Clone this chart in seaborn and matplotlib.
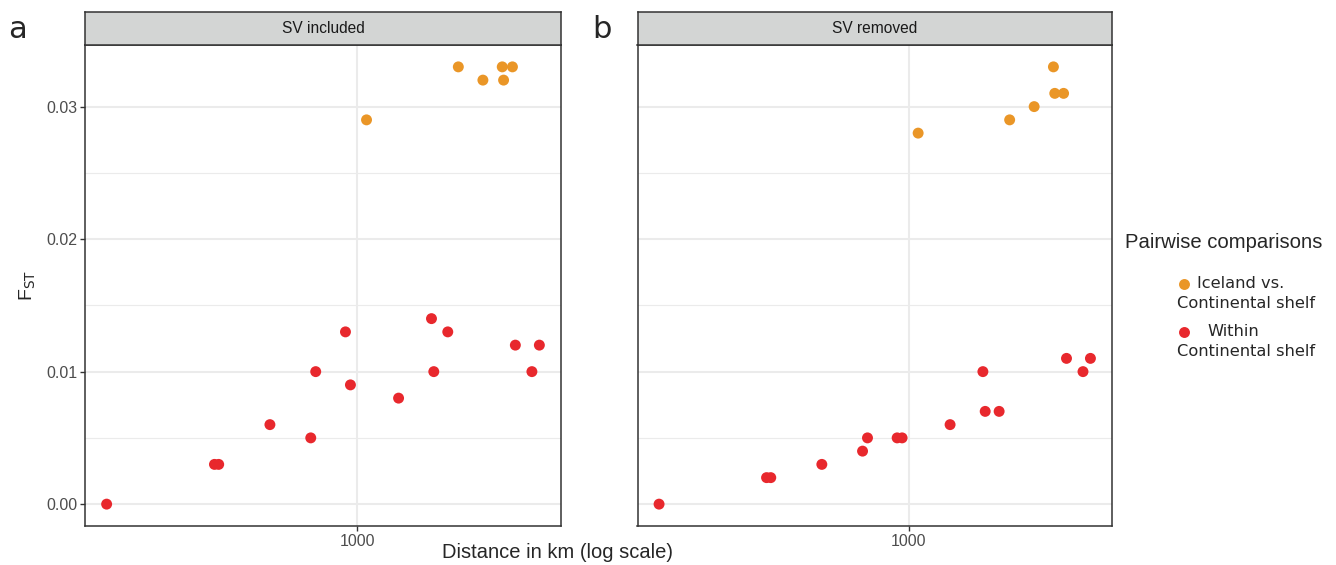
import matplotlib
matplotlib.use("Agg")
import matplotlib.pyplot as plt
import seaborn as sns
import pandas as pd
import numpy as np
from matplotlib.ticker import FixedLocator, NullLocator, FixedFormatter

# ---------------- data ----------------
iceland_dist = [1062, 1912, 2238, 2533, 2555, 2704]
within_dist = [201, 401, 412, 572, 743, 767, 928, 958, 1304, 1610, 1634, 1787, 2755, 3063, 3213]

iceland_fst_sv_included = [0.029, 0.033, 0.032, 0.033, 0.032, 0.033]
within_fst_sv_included = [0.000, 0.003, 0.003, 0.006, 0.005, 0.010, 0.013, 0.009, 0.008,
                          0.014, 0.010, 0.013, 0.012, 0.010, 0.012]
iceland_fst_sv_removed = [0.028, 0.029, 0.030, 0.033, 0.031, 0.031]
within_fst_sv_removed = [0.000, 0.002, 0.002, 0.003, 0.004, 0.005, 0.005, 0.005, 0.006,
                         0.010, 0.007, 0.007, 0.011, 0.010, 0.011]

panels = ["SV included", "SV removed"]
panel_letters = ["a", "b"]
groups = ["Iceland vs.\nContinental shelf", "Within\nContinental shelf"]
y_ticks = [0.00, 0.01, 0.02, 0.03]
y_tick_labels = ["0.00", "0.01", "0.02", "0.03"]
x_ticks = [1000]
x_tick_labels = ["1000"]

palette = {groups[0]: "#EA9627", groups[1]: "#E8282D"}

rows = []
for panel, ice, wit in [(panels[0], iceland_fst_sv_included, within_fst_sv_included),
                        (panels[1], iceland_fst_sv_removed, within_fst_sv_removed)]:
    for d, f in zip(iceland_dist, ice):
        rows.append((panel, groups[0], d, f))
    for d, f in zip(within_dist, wit):
        rows.append((panel, groups[1], d, f))
df = pd.DataFrame(rows, columns=["panel", "group", "distance", "fst"])

# ---------------- figure ----------------
sns.set_theme(style="white")
plt.rcParams["font.family"] = ["Liberation Sans", "DejaVu Sans"]

W, H = 1336, 565
fig = plt.figure(figsize=(W / 100, H / 100), dpi=100)

def fbox(x0, y0, x1, y1):
    return [x0 / W, 1 - y1 / H, (x1 - x0) / W, (y1 - y0) / H]

panel_px = [(85, 561), (637.5, 1112)]
top, bottom, strip_top = 45, 526, 12

# log-x range with ggplot-like 5% expansion
lx = np.log10([min(within_dist + iceland_dist), max(within_dist + iceland_dist)])
span = lx[1] - lx[0]
xlim = (10 ** (lx[0] - 0.05 * span), 10 ** (lx[1] + 0.05 * span))
ylim = (-0.05 * 0.033, 0.033 * 1.05)

for i, panel in enumerate(panels):
    x0, x1 = panel_px[i]
    ax = fig.add_axes(fbox(x0, top, x1, bottom))
    sub = df[df.panel == panel]
    sns.scatterplot(data=sub, x="distance", y="fst", hue="group", palette=palette,
                    hue_order=groups, s=62, linewidth=0, ax=ax, legend=False, zorder=3)
    ax.set_xscale("log")
    ax.set_xlim(*xlim)
    ax.set_ylim(*ylim)
    ax.xaxis.set_major_locator(FixedLocator(x_ticks))
    ax.xaxis.set_major_formatter(FixedFormatter(x_tick_labels))
    ax.xaxis.set_minor_locator(NullLocator())
    ax.yaxis.set_major_locator(FixedLocator(y_ticks))
    ax.yaxis.set_minor_locator(FixedLocator([0.005, 0.015, 0.025]))
    ax.grid(True, which="major", color="#EBEBEB", linewidth=1.5, zorder=0)
    ax.grid(True, which="minor", axis="y", color="#EBEBEB", linewidth=0.8, zorder=0)
    ax.set_axisbelow(True)
    for s in ax.spines.values():
        s.set_color("#333333")
        s.set_linewidth(1.1)
    ax.tick_params(axis="both", which="major", length=3.5, width=1, color="#333333",
                   labelsize=11.5, labelcolor="#4D4D4D", pad=2, direction="out")
    ax.tick_params(axis="both", which="minor", length=0)
    ax.tick_params(axis="x", bottom=True)
    if i == 0:
        ax.tick_params(axis="y", left=True)
        ax.set_yticklabels(y_tick_labels)
        ax.set_ylabel(r"F$_{\mathrm{ST}}$", fontsize=14, labelpad=6)
    else:
        ax.tick_params(axis="y", left=False, labelleft=False)
        ax.set_ylabel("")
    ax.set_xlabel("")

    # strip
    sax = fig.add_axes(fbox(x0, strip_top, x1, top))
    sax.set_facecolor("#D3D5D4")
    sax.set_xticks([])
    sax.set_yticks([])
    for s in sax.spines.values():
        s.set_color("#333333")
        s.set_linewidth(1.1)
    sax.text(0.5, 0.5, panel, ha="center", va="center", fontsize=11.2, color="#1A1A1A",
             transform=sax.transAxes)

    fig.text([17, 602][i] / W, 1 - 30 / H, panel_letters[i], fontsize=22,
             ha="center", va="center", family="DejaVu Sans")

fig.text(557 / W, 1 - 552 / H, "Distance in km (log scale)", fontsize=14.5,
         ha="center", va="center")

# legend (drawn manually to mimic reference layout)
lax = fig.add_axes([0, 0, 1, 1])
lax.set_xlim(0, W)
lax.set_ylim(H, 0)
lax.axis("off")
fig.text(1125 / W, 1 - 243 / H, "Pairwise comparisons", fontsize=14.6, ha="left", va="center")
legend_rows = [(groups[0], "Iceland vs.", 1197, 283), (groups[1], "Within", 1207, 331)]
for g, first, tx, ty in legend_rows:
    lax.scatter([1184], [ty + 1], s=62, color=palette[g], linewidth=0)
    fig.text(tx / W, 1 - ty / H, first, fontsize=11.7, ha="left", va="center",
             family="DejaVu Sans")
    fig.text(1177 / W, 1 - (ty + 20) / H, "Continental shelf", fontsize=11.7, ha="left",
             va="center", family="DejaVu Sans")

fig.savefig("out.png", dpi=100, facecolor="white")
